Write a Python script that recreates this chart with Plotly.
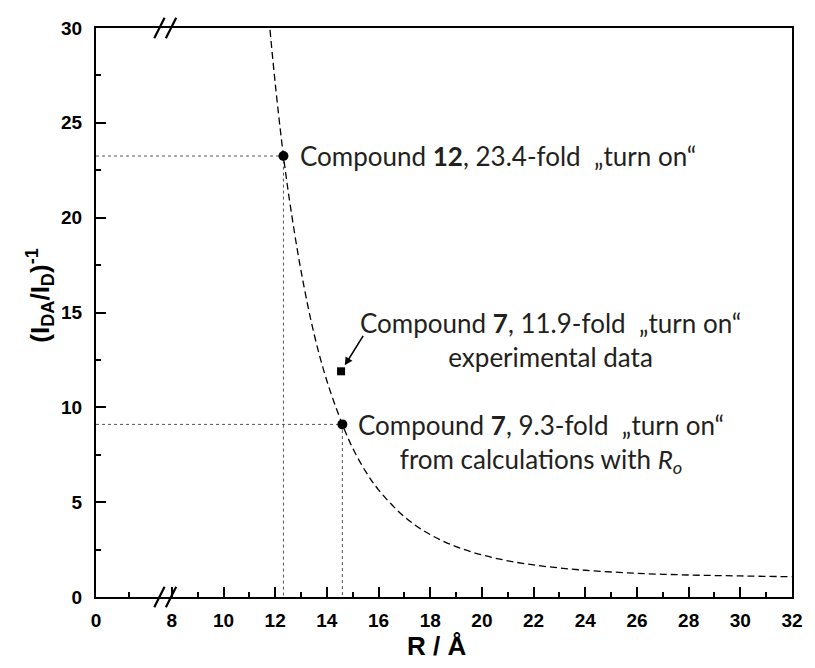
import plotly.graph_objects as go

# ---- data ----
curve_R = [11.8, 12.0, 12.32, 12.6, 13.0, 13.5, 14.0, 14.6, 15.0, 15.5, 16, 17, 18, 19,
           20, 21, 22, 23, 24, 26, 28, 30, 32]
curve_y = [29.9, 27.1, 23.25, 20.5, 17.2, 13.9, 11.4, 9.1, 7.85, 6.62, 5.65, 4.23, 3.29, 2.66,
           2.22, 1.91, 1.69, 1.53, 1.41, 1.25, 1.16, 1.11, 1.07]

calc_R = [12.32, 14.6]
calc_y = [23.25, 9.1]

exp_R = [14.55]
exp_y = [11.9]

x_tick_vals = [8, 10, 12, 14, 16, 18, 20, 22, 24, 26, 28, 30, 32]
x_tick_text = ["8", "10", "12", "14", "16", "18", "20", "22", "24", "26", "28", "30", "32"]
x_zero_pos = 5.066      # axis position of the "0" label (left of the break)
x_minor_vals = [6.33, 9, 11, 13, 15, 17, 19, 21, 23, 25, 27, 29, 31]
break_pos = [7.52, 7.97]  # centres of the two break slashes

fig = go.Figure()

# dotted guide lines
for r, yv in zip(calc_R, calc_y):
    fig.add_trace(go.Scatter(x=[x_zero_pos, r, r], y=[yv, yv, 0], mode="lines",
                             line=dict(color="#555555", width=1, dash="dot"),
                             hoverinfo="skip", showlegend=False))

fig.add_trace(go.Scatter(x=curve_R, y=curve_y, mode="lines",
                         line=dict(color="black", width=1.3, dash="7px,4px", shape="spline"),
                         showlegend=False))

fig.add_trace(go.Scatter(x=calc_R, y=calc_y, mode="markers",
                         marker=dict(symbol="circle", size=10, color="black"),
                         showlegend=False))
fig.add_trace(go.Scatter(x=exp_R, y=exp_y, mode="markers",
                         marker=dict(symbol="square", size=8, color="black"),
                         showlegend=False))

tick_font = dict(family="Liberation Sans, Arial", size=19, color="black", weight="bold")
text_font = dict(family="Lato", size=26, color="#231f20")
title_font = dict(family="Liberation Sans, Arial", size=26, color="black", weight="bold")

fig.update_xaxes(range=[x_zero_pos, 32], tickmode="array",
                 tickvals=[x_zero_pos] + x_tick_vals, ticktext=["0"] + x_tick_text,
                 ticks="inside", ticklen=10, tickwidth=2, tickcolor="black",
                 minor=dict(tickmode="array", tickvals=x_minor_vals, ticks="inside",
                            ticklen=5, tickwidth=2, tickcolor="black"),
                 showline=True, linecolor="black", linewidth=2, mirror=True,
                 showgrid=False, zeroline=False, tickfont=tick_font, ticklabelstandoff=5)
fig.update_yaxes(range=[0, 30], tickmode="linear", tick0=0, dtick=5,
                 ticks="inside", ticklen=10, tickwidth=2, tickcolor="black",
                 minor=dict(dtick=2.5, ticks="inside", ticklen=5, tickwidth=2, tickcolor="black"),
                 showline=True, linecolor="black", linewidth=2, mirror=True,
                 showgrid=False, zeroline=False, tickfont=tick_font, ticklabelstandoff=8)

# axis break marks
shapes = []
for yb in (0.0, 1.0):
    for bc in break_pos:
        shapes.append(dict(type="line", xref="x", yref="paper",
                           x0=bc - 0.2, y0=yb - 0.018, x1=bc + 0.2, y1=yb + 0.018,
                           line=dict(color="black", width=2.2)))

annotations = [
    dict(x=calc_R[0], y=calc_y[0], xref="x", yref="y", xanchor="left", yanchor="middle",
         xshift=15, text="Compound <b>12</b>, 23.4-fold \u00a0\u201eturn on\u201c",
         showarrow=False, font=text_font),
    dict(x=exp_R[0], y=exp_y[0], xref="x", yref="y", xanchor="left", yanchor="middle",
         xshift=17, yshift=31,
         text="Compound <b>7</b>, 11.9-fold \u00a0\u201eturn on\u201c<br>experimental data",
         align="center", showarrow=False, font=text_font),
    dict(x=calc_R[1], y=calc_y[1], xref="x", yref="y", xanchor="left", yanchor="middle",
         xshift=14, yshift=-19,
         text="Compound <b>7</b>, 9.3-fold \u00a0\u201eturn on\u201c<br>from calculations with <i>R<sub>o</sub></i>",
         align="center", showarrow=False, font=text_font),
    dict(x=exp_R[0], y=exp_y[0], xref="x", yref="y", ax=23, ay=-37, showarrow=True,
         arrowhead=2, arrowsize=1, arrowwidth=1.6, arrowcolor="black", standoff=7, text=""),
    dict(x=0.489, y=-0.086, xref="paper", yref="paper", xanchor="center", yanchor="middle",
         text="R / \u00c5", showarrow=False, font=title_font),
    dict(x=-0.08, y=0.53, xref="paper", yref="paper", xanchor="center", yanchor="middle",
         text="(I<sub>DA</sub>/I<sub>D</sub>)<sup>-1</sup>", textangle=-90, showarrow=False,
         font=title_font),
]

fig.update_layout(width=815, height=668, margin=dict(l=96, r=15, t=28, b=71),
                  plot_bgcolor="white", paper_bgcolor="white",
                  shapes=shapes, annotations=annotations, showlegend=False)

fig.write_html("out.html")
